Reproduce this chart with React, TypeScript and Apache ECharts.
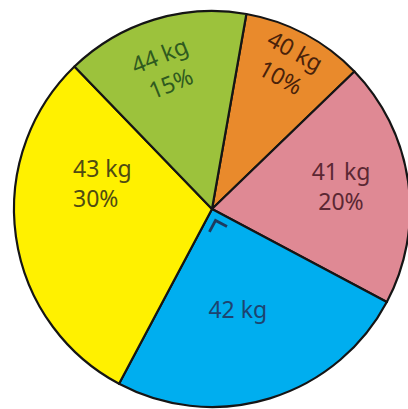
import React, { useEffect, useRef } from "react";
import * as echarts from "echarts";

// ---- data ----
const categories = ["40 kg", "41 kg", "42 kg", "43 kg", "44 kg"];
const percentages = [10, 20, 25, 30, 15];
const showPercent = [true, true, false, true, true];

// ---- styles ----
const sliceColors = ["#E98A2C", "#DF8994", "#00AEEF", "#FFF100", "#9CC23C"];
const textColors = ["#4a220a", "#5b2733", "#1d4470", "#4f4b12", "#2f5a1f"];
const labelRotations = [-29, 0, 0, 0, 22];
const labelAligns = ["center", "center", "center", "left", "center"];
const labelOffsets = [
  [-2, -62],
  [28, -9],
  [-4, 2],
  [-38, -40],
  [0, -46],
];

const W = 408;
const H = 409;
const CX = 212;
const CY = 209;
const R = 198;
const START_FROM_TOP = 10; // degrees clockwise from 12 o'clock

export default function App() {
  const ref = useRef<HTMLDivElement>(null);

  useEffect(() => {
    if (!ref.current) return;
    const chart = echarts.init(ref.current, undefined, { renderer: "svg", width: W, height: H });

    // right-angle mark for the 42 kg slice, derived from the data
    const total = percentages.reduce((a, b) => a + b, 0);
    const idx = 2;
    const before = percentages.slice(0, idx).reduce((a, b) => a + b, 0);
    const a1 = START_FROM_TOP + (before / total) * 360;
    const a2 = a1 + (percentages[idx] / total) * 360;
    const mid = (a1 + a2) / 2;
    const dir = (deg: number) => {
      const r = (deg * Math.PI) / 180;
      return [Math.sin(r), -Math.cos(r)];
    };
    const b = dir(mid);
    const u1 = dir(a1);
    const u2 = dir(a2);
    const V = [CX + 12 * b[0], CY + 12 * b[1]];
    const L = 13;
    const markPts = [
      [V[0] + L * u2[0], V[1] + L * u2[1]],
      V,
      [V[0] + L * u1[0], V[1] + L * u1[1]],
    ];

    chart.setOption({
      animation: false,
      backgroundColor: "#ffffff",
      series: [
        {
          type: "pie",
          center: [CX, CY],
          radius: [0, R],
          startAngle: 90 - START_FROM_TOP,
          clockwise: true,
          silent: true,
          avoidLabelOverlap: false,
          labelLine: { show: false },
          itemStyle: { borderColor: "#151515", borderWidth: 2.2 },
          label: {
            show: true,
            position: "inside",
            fontFamily: "Noto Sans",
            fontSize: 23,
            lineHeight: 30,
            textBorderWidth: 0,
            formatter: (p: any) =>
              showPercent[p.dataIndex] ? `${p.name}\n${p.value}%` : p.name,
          },
          labelLayout: (p: any) => {
            const o = labelOffsets[p.dataIndex];
            return { dx: o[0], dy: o[1], align: labelAligns[p.dataIndex] };
          },
          data: categories.map((name, i) => ({
            name,
            value: percentages[i],
            itemStyle: { color: sliceColors[i] },
            label: { color: textColors[i], rotate: labelRotations[i] },
          })),
        },
      ],
      graphic: [
        {
          type: "polyline",
          shape: { points: markPts },
          style: { stroke: "#1d3a60", lineWidth: 2.8, fill: "none" },
          z: 100,
        },
      ],
    });

    return () => chart.dispose();
  }, []);

  return (
    <div
      ref={ref}
      style={{ position: "fixed", left: 0, top: 0, width: W, height: H }}
    />
  );
}
